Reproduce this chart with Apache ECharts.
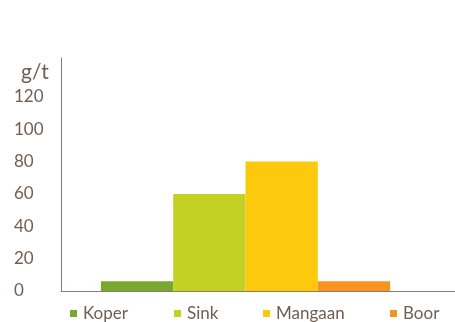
<!DOCTYPE html>
<html><head><meta charset="utf-8">
<script src="https://cdn.jsdelivr.net/npm/echarts@6/dist/echarts.min.js"></script>
<style>html,body{margin:0;padding:0;background:#fff}#c{width:455px;height:322px}</style>
</head><body><div id="c"></div>
<script>
const categories = ['Grondstof'];
const seriesNames = ['Koper', 'Sink', 'Mangaan', 'Boor'];
const koper = [6];
const sink = [60];
const mangaan = [80];
const boor = [6];
const colors = ['#79a82f', '#c3d123', '#fdc90c', '#f7931e'];
const unit = 'g/t';

const textColor = '#6f5f53';
const font = 'Lato';
const values = [koper, sink, mangaan, boor];
const series = seriesNames.map((n, i) => ({
  name: n, type: 'bar', data: values[i], barWidth: 72.3, barGap: '0%',
  itemStyle: { color: colors[i] }
}));
series.push({ name: '_pad', type: 'bar', data: ['-'], barWidth: 25, barGap: '0%', silent: true });

const legendLefts = [70, 174, 263, 390];
const legends = seriesNames.map((n, i) => ({
  data: [n], left: legendLefts[i], top: 305, padding: 0, icon: 'rect', itemWidth: 7, itemHeight: 7,
  textStyle: { color: textColor, fontFamily: font, fontSize: 17, padding: [0, 0, 0, 1] }
}));

const chart = echarts.init(document.getElementById('c'));
chart.setOption({
  animation: false,
  title: { text: unit, left: 21, top: 62, padding: 0, textStyle: { color: textColor, fontFamily: font, fontSize: 21, fontWeight: 'normal' } },
  grid: { left: 61, right: 0, top: 58, bottom: 31 },
  legend: legends,
  xAxis: {
    type: 'category', data: categories,
    axisLine: { lineStyle: { color: '#8a7b70', width: 1 } },
    axisTick: { show: false }, axisLabel: { show: false }
  },
  yAxis: {
    type: 'value', min: 0, max: 144, interval: 20,
    axisLine: { show: true, lineStyle: { color: '#8a7b70', width: 1 } },
    axisTick: { show: false }, splitLine: { show: false },
    axisLabel: {
      color: textColor, fontFamily: font, fontSize: 17, align: 'left', margin: 47,
      formatter: v => (v <= 120 ? String(v) : '')
    }
  },
  series
});
</script></body></html>
